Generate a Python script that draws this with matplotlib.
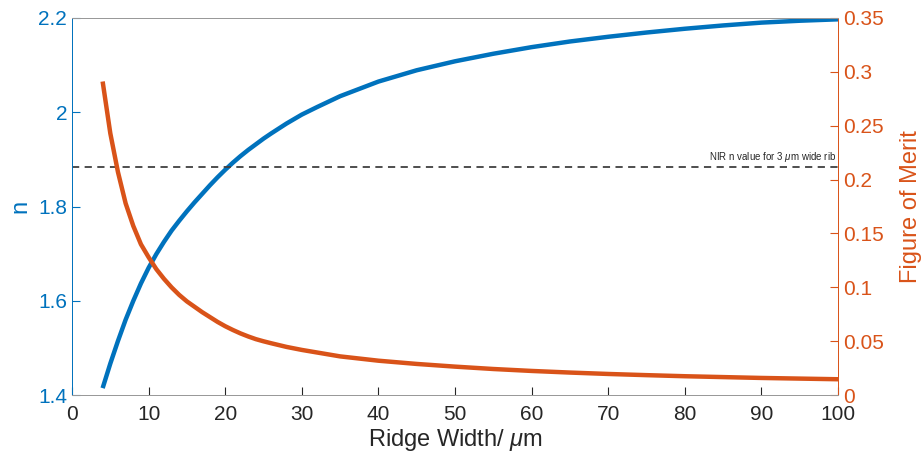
import matplotlib.pyplot as plt
import numpy as np

plt.rcParams['font.family'] = ['Liberation Sans', 'DejaVu Sans']
plt.rcParams['mathtext.fontset'] = 'custom'
plt.rcParams['mathtext.it'] = 'Liberation Sans:italic'

# ширина гребня, мкм
width = [4, 5, 6, 7, 8, 9, 10, 11, 12, 13, 14, 15, 16, 17, 18, 19, 20, 21, 22,
         23, 24, 25, 26, 28, 30, 32, 35, 40, 45, 50, 55, 60, 65, 70, 75, 80,
         85, 90, 95, 100]
# эффективный показатель преломления
n_eff = [1.415, 1.467, 1.515, 1.56, 1.60, 1.637, 1.670, 1.699, 1.725, 1.749,
         1.770, 1.790, 1.809, 1.827, 1.845, 1.862, 1.878, 1.893, 1.907,
         1.920, 1.932, 1.944, 1.955, 1.976, 1.995, 2.011, 2.034, 2.065, 2.089,
         2.108, 2.124, 2.138, 2.150, 2.160, 2.169, 2.177,
         2.184, 2.190, 2.194, 2.197]
# добротность
fom = [0.291, 0.243, 0.207, 0.178, 0.157, 0.140, 0.128, 0.117, 0.108, 0.100,
       0.093, 0.087, 0.082, 0.077, 0.0725, 0.068, 0.064, 0.0605, 0.0573,
       0.0545, 0.052, 0.050, 0.0482, 0.0448, 0.042, 0.0396, 0.036, 0.032, 0.029,
       0.0265, 0.0243, 0.0225, 0.021, 0.0197, 0.0186, 0.0176,
       0.0168, 0.016, 0.0154, 0.0148]
nir_n = 1.883

c_blue = '#0072BD'
c_red = '#D95319'

fig = plt.figure(figsize=(9.23, 4.59), dpi=100)
ax = fig.add_axes([0.078, 0.139, 0.830, 0.822])
ax2 = ax.twinx()

ax.plot(width, n_eff, color=c_blue, lw=3.2, solid_capstyle='butt')
ax.axhline(nir_n, color='#404040', ls=(0, (4, 3)), lw=1.3)
ax.text(99.8, nir_n + 0.008, r'NIR n value for 3 $\mu$m wide rib', fontsize=7,
        ha='right', va='bottom', color='#262626')
ax2.plot(width, fom, color=c_red, lw=3.2, solid_capstyle='butt')

ax.set_xlim(0, 100)
ax.set_ylim(1.4, 2.2)
ax2.set_ylim(0, 0.35)
ax.set_xticks(np.arange(0, 101, 10))
ax.set_yticks([1.4, 1.6, 1.8, 2.0, 2.2])
ax.set_yticklabels(['1.4', '1.6', '1.8', '2', '2.2'])
ax2.set_yticks([0, 0.05, 0.1, 0.15, 0.2, 0.25, 0.3, 0.35])
ax2.set_yticklabels(['0', '0.05', '0.1', '0.15', '0.2', '0.25', '0.3', '0.35'])

ax.set_xlabel(r'Ridge Width/ $\mu$m', fontsize=17, color='#262626', labelpad=2)
ax.set_ylabel('n', fontsize=17, color=c_blue, labelpad=5)
ax2.set_ylabel('Figure of Merit', fontsize=17, color=c_red, labelpad=12)

ax.tick_params(axis='x', direction='in', length=6, labelsize=15, colors='#262626', pad=7)
ax.tick_params(axis='y', direction='in', length=6, labelsize=15, colors=c_blue)
ax2.tick_params(axis='y', direction='in', length=6, labelsize=15, colors=c_red)

for a in (ax, ax2):
    a.spines['top'].set_color('#999999')
    a.spines['bottom'].set_color('#999999')
    a.spines['left'].set_color(c_blue)
    a.spines['right'].set_color(c_red)
    for s in a.spines.values():
        s.set_linewidth(0.7)
ax.spines['left'].set_alpha(0.6)
ax2.spines['right'].set_alpha(0.5)

fig.savefig('out.png', dpi=100)
